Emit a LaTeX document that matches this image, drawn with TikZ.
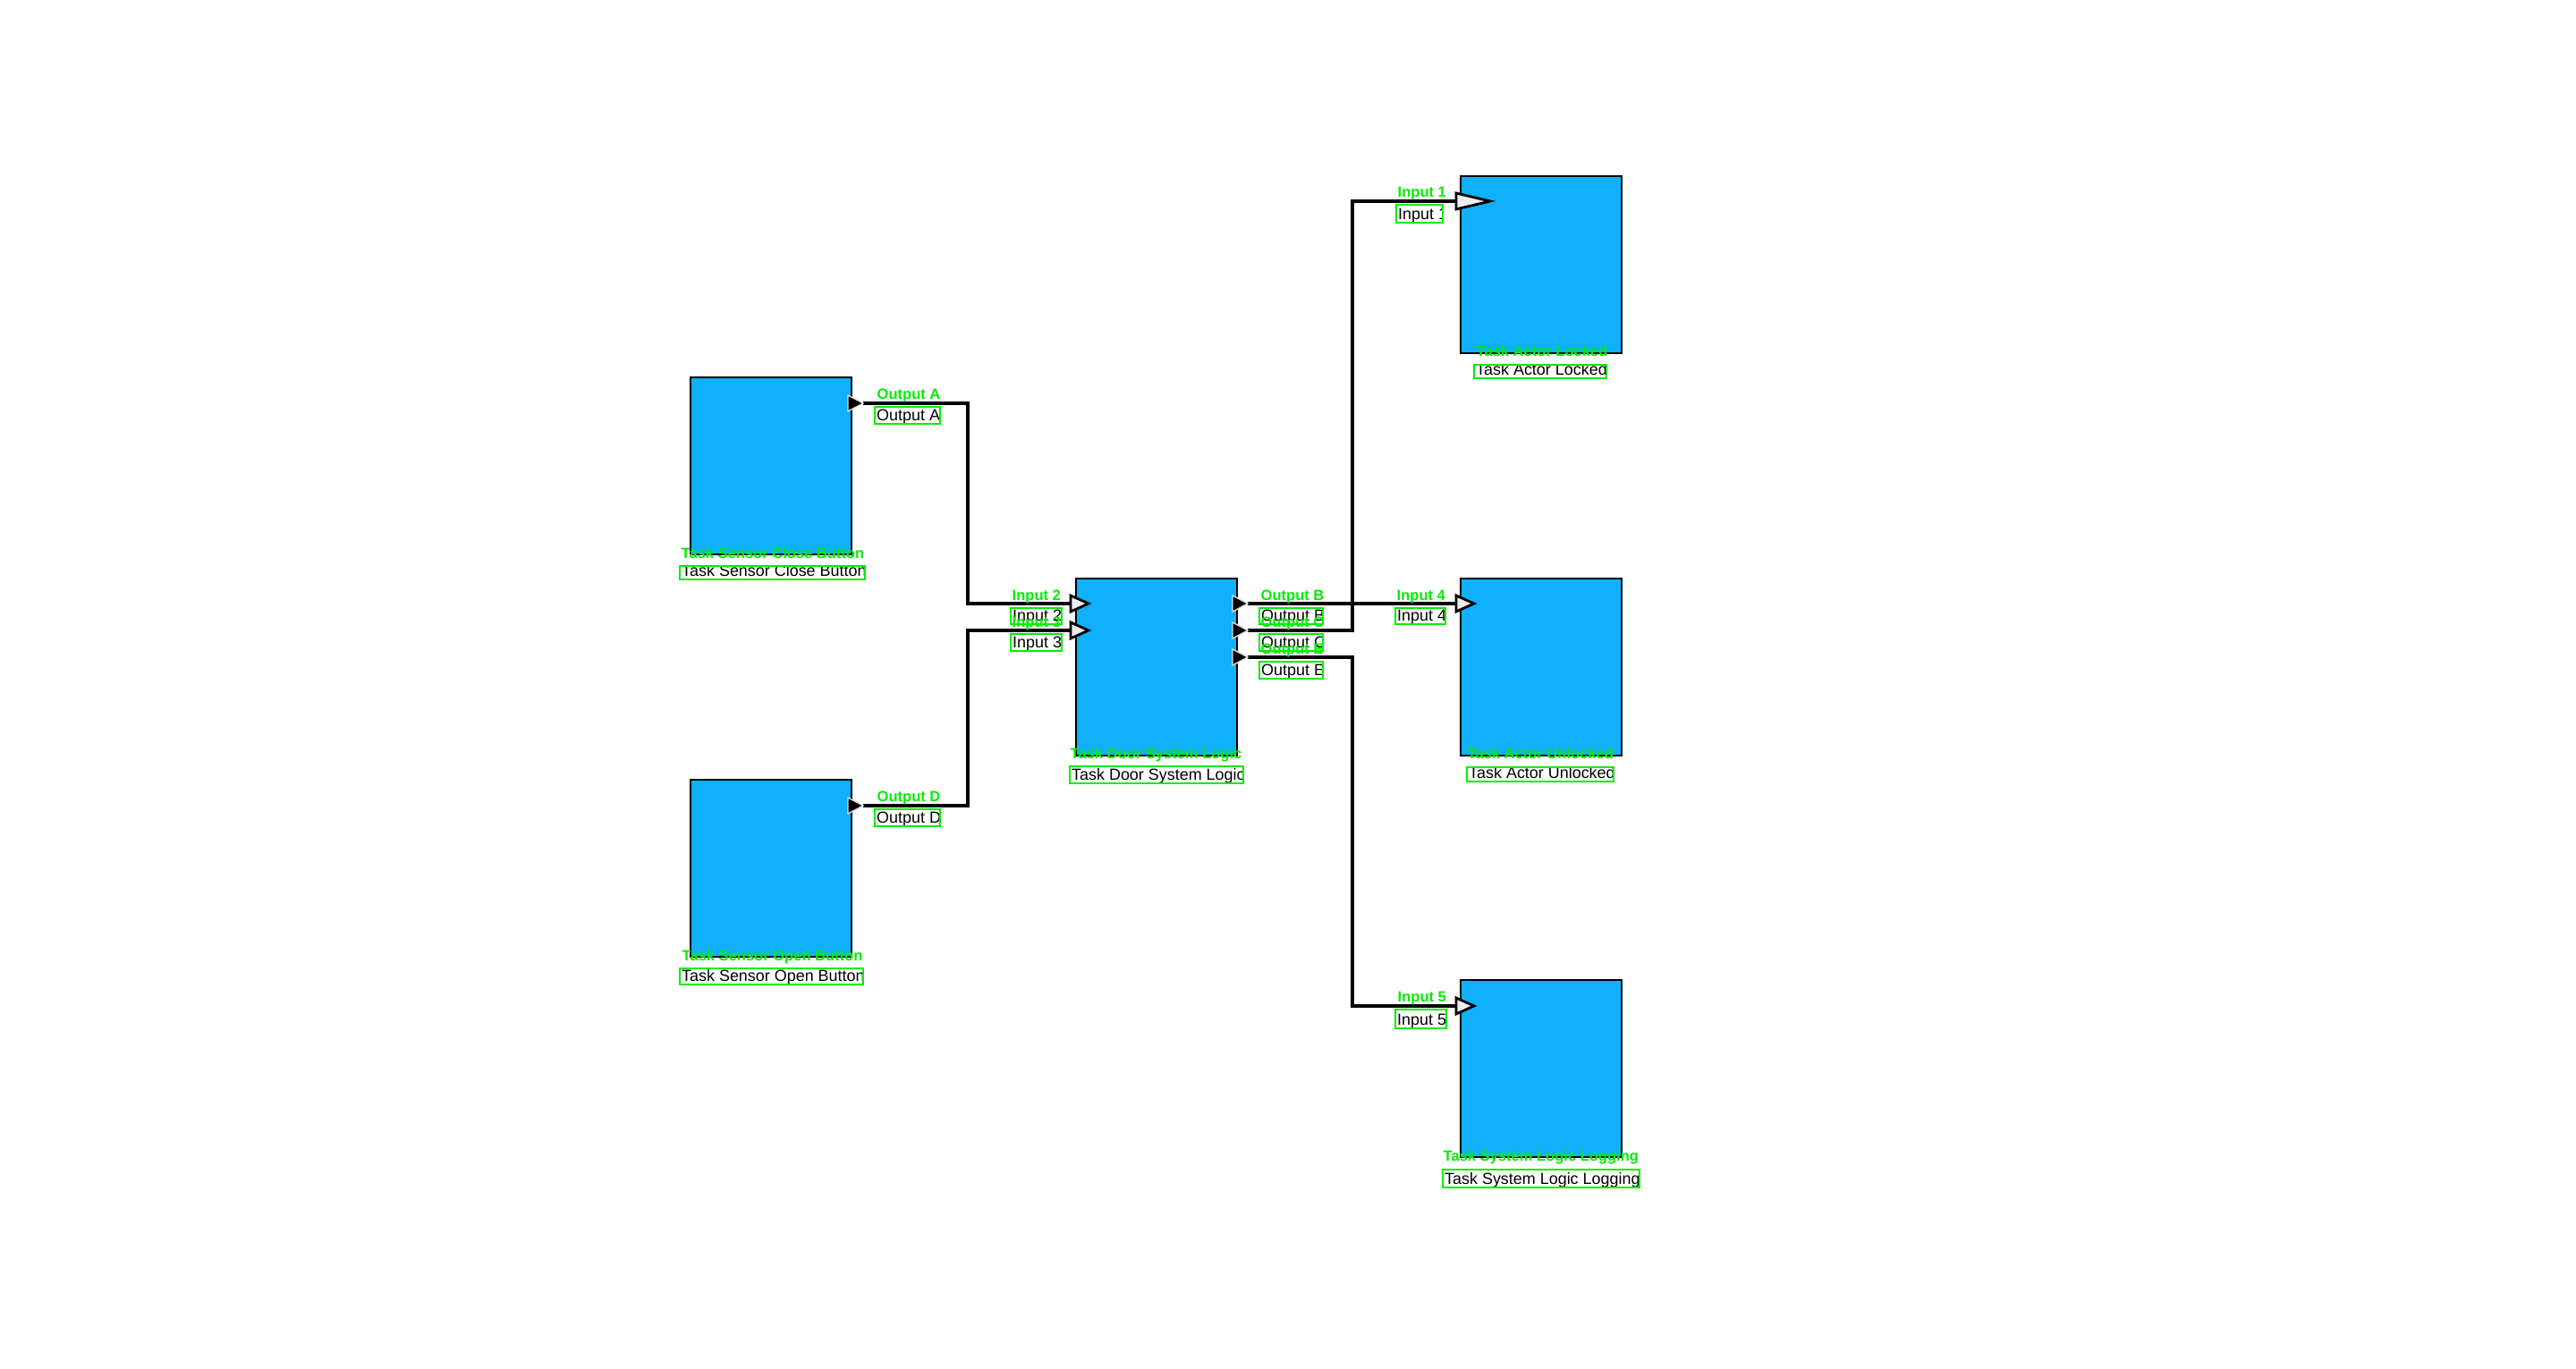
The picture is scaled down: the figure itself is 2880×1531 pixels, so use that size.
\documentclass[tikz,border=0pt]{standalone}
\usepackage{fontspec}
\setmainfont{Liberation Sans}
\definecolor{blockblue}{RGB}{17,176,252}
\definecolor{annot}{RGB}{0,238,0}
\tikzset{
  block/.style={draw=black, line width=0.45pt, fill=blockblue,
    minimum width=1.8cm, minimum height=1.98cm, inner sep=0pt, outer sep=0pt},
  wire/.style={line width=1.15pt, line join=miter},
  outtri/.style={fill=black, draw=white!85!black, line width=0.4pt},
  intri/.style={fill=white!93!black, draw=black, line width=0.8pt, line join=miter},
  tag/.style={text=annot, font=\fontsize{4.7pt}{5pt}\selectfont\bfseries,
    inner sep=0pt, anchor=base west},
  lbl/.style={font=\fontsize{5.1pt}{6pt}\selectfont, inner sep=0pt, anchor=base west},
  lblbox/.style={draw=annot, line width=0.6pt},
}
% #1 name, #2/#3 tag position (left, middle), #4..#7 label box, #8 text
\newcommand\annotlabel[8]{%
  \node[tag] (#1-tag) at (#2,#3+6) {#8};
  \begin{scope}
    \clip (#4,#5) rectangle (#6,#7);
    \node[lbl] (#1-text) at (#4+1.5,#7-3.5) {#8};
  \end{scope}
  \draw[lblbox] (#4,#5) rectangle (#6,#7);
}
\begin{document}
\begin{tikzpicture}[x=0.01cm, y=-0.01cm]
\useasboundingbox (0,0) rectangle (2880,1531);
\fill[white] (0,0) rectangle (2880,1531);

% task blocks
\node[block, anchor=north west] (close)    at (772,422)   {};
\node[block, anchor=north west] (open)     at (772,872)   {};
\node[block, anchor=north west] (logic)    at (1203,647)  {};
\node[block, anchor=north west] (locked)   at (1633,197)  {};
\node[block, anchor=north west] (unlocked) at (1633,647)  {};
\node[block, anchor=north west] (logging)  at (1633,1096) {};

% port positions (output tips, input bases) and wire bus columns
\coordinate (oA) at (965,451);
\coordinate (oD) at (965,901);
\coordinate (oB) at (1395,675);
\coordinate (oC) at (1395,705);
\coordinate (oE) at (1395,735);
\coordinate (i2) at (1197,675);
\coordinate (i3) at (1197,705);
\coordinate (i1) at (1628,225);
\coordinate (i4) at (1628,675);
\coordinate (i5) at (1628,1125);
\coordinate (busL) at (1082,0);
\coordinate (busR) at (1512,0);

% connections
\draw[wire] (oA) -- (oA -| busL) -- (i2 -| busL) -- (i2);
\draw[wire] (oD) -- (oD -| busL) -- (i3 -| busL) -- (i3);
\draw[wire] (oB) -- (i4);
\draw[wire] (oC) -- (oC -| busR) -- (i1 -| busR) -- (i1);
\draw[wire] (oE) -- (oE -| busR) -- (i5 -| busR) -- (i5);

% output ports
\foreach \p in {oA,oD,oB,oC,oE}
  \draw[outtri] (\p) -- ++(-17,-9) -- ++(0,18) -- cycle;
% input ports
\foreach \p in {i2,i3,i4,i5}
  \draw[intri] (\p) ++(0,-9) -- ++(20,9) -- ++(-20,9) -- cycle;
\draw[intri] (i1) ++(0,-9) -- ++(38,9) -- ++(-38,9) -- cycle;

% port labels
\annotlabel{lA}{980}{441}{978}{455}{1051}{474}{Output A}
\annotlabel{lD}{980}{891}{978}{905}{1051}{924}{Output D}
\annotlabel{l2}{1131}{666}{1130}{680}{1187}{698}{Input 2}
\annotlabel{l3}{1131}{696}{1130}{709}{1187}{728}{Input 3}
\annotlabel{lB}{1409}{666}{1408}{680}{1479}{698}{Output B}
\annotlabel{lC}{1409}{696}{1408}{709}{1479}{728}{Output C}
\annotlabel{lE}{1409}{726}{1408}{740}{1479}{759}{Output E}
\annotlabel{l1}{1562}{215}{1561}{229}{1613}{249}{Input 1}
\annotlabel{l4}{1561}{666}{1560}{680}{1616}{698}{Input 4}
\annotlabel{l5}{1562}{1115}{1560}{1129}{1617}{1150}{Input 5}

% task names
\annotlabel{tClose}{761}{619}{760}{633}{967}{648}{Task Sensor Close Button}
\annotlabel{tOpen}{762}{1069}{760}{1083}{965}{1101}{Task Sensor Open Button}
\annotlabel{tLogic}{1196}{843}{1196}{857}{1390}{876}{Task Door System Logic}
\annotlabel{tLocked}{1650}{393}{1648}{408}{1796}{423}{Task Actor Locked}
\annotlabel{tUnlocked}{1640}{843}{1640}{858}{1804}{874}{Task Actor Unlocked}
\annotlabel{tLogging}{1613}{1293}{1613}{1308}{1833}{1328}{Task System Logic Logging}
\end{tikzpicture}
\end{document}
